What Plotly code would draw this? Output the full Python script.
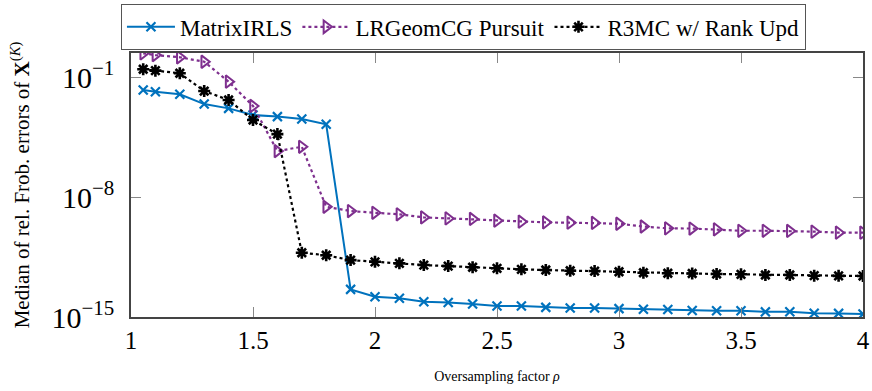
import plotly.graph_objects as go

rho = [1.05, 1.1, 1.2, 1.3, 1.4, 1.5, 1.6, 1.7, 1.8, 1.9, 2.0, 2.1, 2.2, 2.3, 2.4, 2.5,
       2.6, 2.7, 2.8, 2.9, 3.0, 3.1, 3.2, 3.3, 3.4, 3.5, 3.6, 3.7, 3.8, 3.9, 4.0]

log_matrixirls = [-1.76, -1.86, -2.01, -2.58, -2.83, -3.22, -3.31, -3.45, -3.76, -13.39,
                  -13.82, -13.91, -14.11, -14.15, -14.24, -14.36, -14.36, -14.44, -14.48, -14.48,
                  -14.51, -14.55, -14.56, -14.62, -14.63, -14.63, -14.70, -14.69, -14.78, -14.79, -14.83]

log_lrgeomcg = [0.38, 0.28, 0.15, -0.11, -1.27, -2.69, -5.32, -5.07, -8.57, -8.82,
                -8.92, -9.01, -9.19, -9.25, -9.28, -9.38, -9.44, -9.48, -9.50, -9.51,
                -9.56, -9.72, -9.83, -9.84, -9.89, -9.97, -9.97, -9.98, -10.02, -10.08, -10.08]

log_r3mc = [-0.55, -0.63, -0.78, -1.82, -2.34, -3.51, -4.33, -11.25, -11.40, -11.68,
            -11.78, -11.87, -11.97, -12.03, -12.10, -12.16, -12.22, -12.26, -12.30, -12.32,
            -12.36, -12.42, -12.45, -12.46, -12.49, -12.51, -12.55, -12.55, -12.59, -12.60, -12.61]

names = ["MatrixIRLS", "LRGeomCG Pursuit", "R3MC w/ Rank Upd"]
y_tick_vals = [1e-15, 1e-8, 1e-1]
y_tick_text = ["10<sup>−15</sup>", "10<sup>−8</sup>", "10<sup>−1</sup>"]
x_tick_vals = [1, 1.5, 2, 2.5, 3, 3.5, 4]
x_tick_text = ["1", "1.5", "2", "2.5", "3", "3.5", "4"]

FONT = "Liberation Serif, DejaVu Serif, serif"

fig = go.Figure()
fig.add_trace(go.Scatter(
    x=rho, y=[10 ** v for v in log_matrixirls], name=names[0], mode="lines+markers",
    line=dict(color="#0072BD", width=2),
    marker=dict(symbol="x-thin", size=9, line=dict(color="#0072BD", width=2.2))))
fig.add_trace(go.Scatter(
    x=rho, y=[10 ** v for v in log_lrgeomcg], name=names[1], mode="lines+markers",
    line=dict(color="#7E2F8E", width=2.2, dash="dot"),
    marker=dict(symbol="triangle-right-open", size=11, color="#7E2F8E",
                line=dict(color="#7E2F8E", width=2))))
fig.add_trace(go.Scatter(
    x=rho, y=[10 ** v for v in log_r3mc], name=names[2], mode="lines+markers",
    line=dict(color="black", width=2.2, dash="dot"),
    marker=dict(symbol="asterisk-open", size=10, color="black",
                line=dict(color="black", width=2.6))))

fig.update_layout(
    width=872, height=391,
    margin=dict(l=131, r=2, t=53, b=74),
    plot_bgcolor="white", paper_bgcolor="white",
    font=dict(family=FONT, color="black"),
    showlegend=True,
    legend=dict(orientation="h", x=-0.014, y=1.185, xanchor="left", yanchor="top",
                bordercolor="#555555", borderwidth=1.2, bgcolor="white",
                font=dict(family=FONT, size=23), itemwidth=48,
                tracegroupgap=0),
    xaxis=dict(range=[1, 4], tickvals=x_tick_vals, ticktext=x_tick_text,
               ticks="inside", ticklen=10, tickcolor="#888888", tickwidth=1,
               showline=True, linecolor="#444444", linewidth=1.5, mirror="ticks",
               showgrid=False, zeroline=False, ticklabeloverflow="allow",
               tickfont=dict(family=FONT, size=25),
               title=dict(text="Oversampling factor <i>ρ</i>", font=dict(family=FONT, size=14),
                          standoff=18)),
    yaxis=dict(type="log", range=[-15, 0.4], tickvals=y_tick_vals, ticktext=y_tick_text,
               ticks="inside", ticklen=10, tickcolor="#888888", tickwidth=1,
               showline=True, linecolor="#444444", linewidth=1.5, mirror="ticks",
               showgrid=False, zeroline=False, ticklabeloverflow="allow",
               ticklabelstandoff=9,
               tickfont=dict(family=FONT, size=30),
               title=dict(text="Median of rel. Frob. errors of <b>X</b><sup>(<i>K</i>)</sup>",
                          font=dict(family=FONT, size=21), standoff=16)),
)

fig.write_html("out.html")
